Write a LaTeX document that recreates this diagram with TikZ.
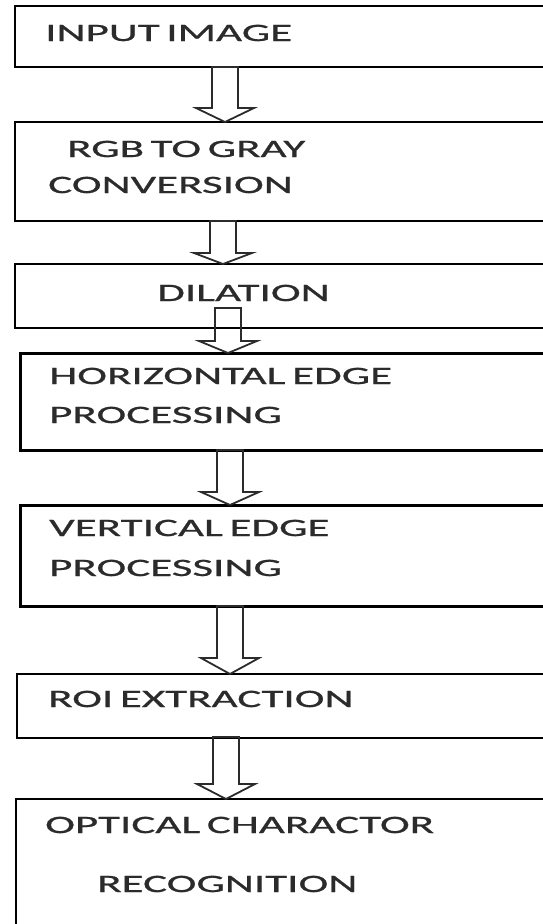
\documentclass[tikz,border=0pt]{standalone}
\usepackage{fontspec}
\newfontfamily\stagefont[FakeStretch=1.8,FakeBold=0.8,WordSpace=0.65]{Carlito}
\usetikzlibrary{calc}
\definecolor{ink}{HTML}{2B2B2B}
\tikzset{
  stage/.style={draw=black, line width=2pt, rectangle, inner sep=0pt, outer sep=0pt,
    anchor=north west, minimum width=560pt},
  heavy/.style={line width=3pt},
  caption/.style={anchor=base west, inner sep=0pt, text=ink,
    font=\stagefont\fontsize{25}{30}\selectfont},
  hollow/.style={draw=ink, line width=1.8pt, line join=miter},
}
% hollow arrow: from, to, x, shaft top shift, head length
\newcommand{\flowarrow}[5]{%
  \draw[hollow] let \p1=(#1.south), \p2=(#2.north) in
    (#3-13,\y1+#4pt) -- (#3-13,\y2+#5pt) -- (#3-29,\y2+#5pt) -- (#3,\y2)
    -- (#3+29,\y2+#5pt) -- (#3+13,\y2+#5pt) -- (#3+13,\y1+#4pt) -- cycle;
}
\begin{document}
\begin{tikzpicture}[x=1pt,y=-1pt]
  \useasboundingbox (0,0) rectangle (543,924);
  % stages
  \node[stage, minimum height=61pt] (input) at (15,6) {};
  \node[stage, minimum height=99pt] (gray) at (15,122) {};
  \node[stage, minimum height=64pt] (dilation) at (15,264) {};
  \node[stage, heavy, minimum height=97pt] (horiz) at (20,353) {};
  \node[stage, heavy, minimum height=101pt] (vert) at (20,505) {};
  \node[stage, minimum height=64pt] (roi) at (17,674) {};
  \node[stage, minimum height=200pt] (ocr) at (16,799) {};
  % captions
  \node[caption] (inputtxt) at (45,41) {INPUT IMAGE};
  \node[caption] (graytxt) at (67,157) {RGB TO GRAY};
  \node[caption] (graytxtb) at (48,193) {CONVERSION};
  \node[caption] (diltxt) at (157,301) {DILATION};
  \node[caption] (horiztxt) at (49,384) {HORIZONTAL EDGE};
  \node[caption] (horiztxtb) at (49,423) {PROCESSING};
  \node[caption] (verttxt) at (49,536) {VERTICAL EDGE};
  \node[caption] (verttxtb) at (49,576) {PROCESSING};
  \node[caption] (roitxt) at (48,707) {ROI EXTRACTION};
  \node[caption] (ocrtxt) at (45,833) {OPTICAL CHARACTOR};
  \node[caption] (ocrtxtb) at (97,892) {RECOGNITION};
  % arrows
  \flowarrow{input}{gray}{225}{0}{14}
  \flowarrow{gray}{dilation}{223}{0}{11}
  \flowarrow{dilation}{horiz}{228}{20}{12}
  \flowarrow{horiz}{vert}{230}{0}{13}
  \flowarrow{vert}{roi}{230}{0}{16}
  \flowarrow{roi}{ocr}{226}{1}{15}
\end{tikzpicture}
\end{document}
